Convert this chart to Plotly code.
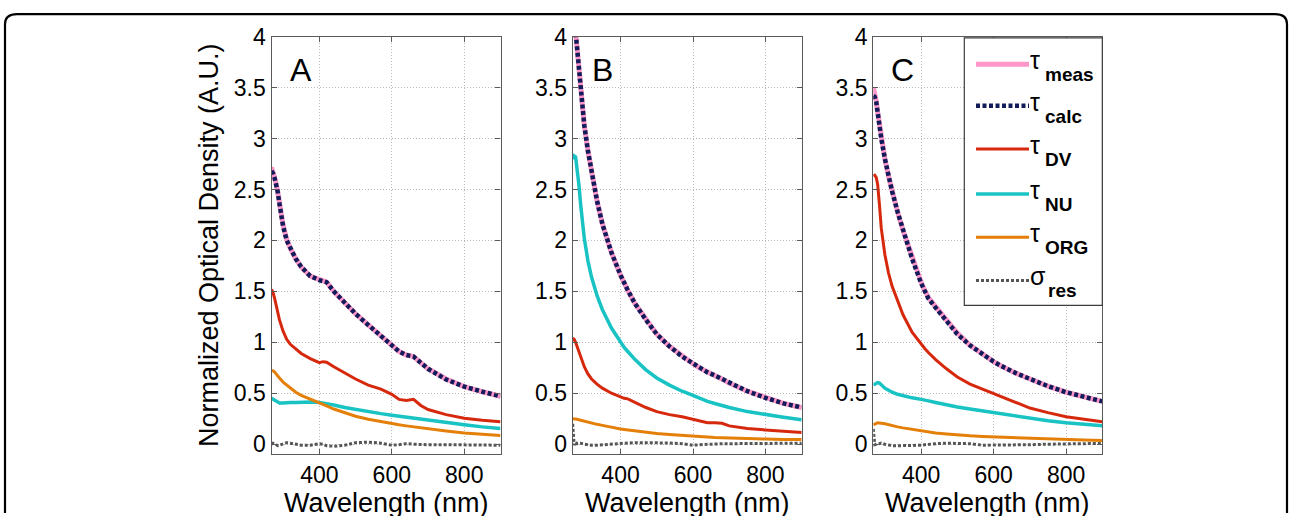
import plotly.graph_objects as go

# ---------------- data ----------------
wavelength = [268, 272, 276, 280, 285, 290, 300, 310, 320, 335, 350, 375, 400, 410, 420,
              440, 470, 500, 535, 570, 600, 620, 640, 660, 680, 700, 750, 800, 850, 900]

panels = ["A", "B", "C"]

# Panel A
A_meas = [2.72, 2.68, 2.63, 2.57, 2.48, 2.36, 2.15, 2.01, 1.92, 1.82, 1.74, 1.65, 1.61, 1.60, 1.59,
          1.50, 1.39, 1.28, 1.17, 1.06, 0.97, 0.91, 0.875, 0.86, 0.80, 0.74, 0.64, 0.565, 0.515, 0.47]
A_calc = [2.68, 2.66, 2.62, 2.57, 2.48, 2.36, 2.14, 2.00, 1.92, 1.82, 1.74, 1.65, 1.61, 1.60, 1.59,
          1.50, 1.39, 1.28, 1.17, 1.06, 0.97, 0.91, 0.875, 0.86, 0.80, 0.74, 0.635, 0.565, 0.515, 0.47]
A_dv = [1.52, 1.49, 1.44, 1.38, 1.30, 1.22, 1.11, 1.03, 0.98, 0.93, 0.89, 0.84, 0.80, 0.81, 0.805,
        0.76, 0.70, 0.64, 0.58, 0.54, 0.49, 0.44, 0.43, 0.44, 0.38, 0.34, 0.29, 0.255, 0.235, 0.22]
A_nu = [0.45, 0.44, 0.43, 0.42, 0.41, 0.405, 0.405, 0.41, 0.41, 0.41, 0.415, 0.415, 0.41, 0.405, 0.40,
        0.385, 0.36, 0.34, 0.32, 0.30, 0.285, 0.275, 0.265, 0.255, 0.245, 0.235, 0.21, 0.19, 0.17, 0.155]
A_org = [0.72, 0.72, 0.71, 0.69, 0.67, 0.65, 0.61, 0.58, 0.55, 0.51, 0.48, 0.44, 0.405, 0.39, 0.375,
         0.345, 0.31, 0.275, 0.245, 0.22, 0.20, 0.19, 0.18, 0.17, 0.16, 0.15, 0.13, 0.11, 0.095, 0.085]
A_res = [0.0, 0.01, 0.005, -0.005, -0.015, -0.01, 0.005, 0.015, 0.01, 0.0, -0.01, -0.01, 0.005, 0.0, -0.015,
         -0.02, -0.01, 0.015, 0.02, 0.01, -0.01, -0.005, 0.005, 0.0, -0.005, -0.005, -0.005, -0.005, -0.008, -0.01]

# Panel B
B_meas = [4.35, 4.20, 4.02, 3.85, 3.64, 3.45, 3.13, 2.88, 2.66, 2.39, 2.16, 1.88, 1.66, 1.58, 1.51,
          1.38, 1.22, 1.08, 0.96, 0.86, 0.79, 0.745, 0.705, 0.675, 0.64, 0.60, 0.52, 0.455, 0.40, 0.36]
B_calc = [4.35, 4.20, 4.02, 3.85, 3.64, 3.45, 3.13, 2.88, 2.66, 2.39, 2.16, 1.88, 1.66, 1.58, 1.51,
          1.38, 1.22, 1.08, 0.96, 0.86, 0.79, 0.745, 0.705, 0.675, 0.64, 0.60, 0.52, 0.455, 0.40, 0.36]
B_dv = [1.04, 1.03, 1.00, 0.96, 0.92, 0.86, 0.76, 0.69, 0.64, 0.59, 0.55, 0.50, 0.46, 0.45, 0.445,
        0.41, 0.36, 0.32, 0.29, 0.27, 0.245, 0.225, 0.21, 0.21, 0.205, 0.18, 0.155, 0.14, 0.125, 0.115]
B_nu = [2.80, 2.83, 2.82, 2.72, 2.55, 2.35, 2.02, 1.80, 1.64, 1.46, 1.32, 1.14, 1.00, 0.95, 0.91,
        0.83, 0.73, 0.65, 0.58, 0.52, 0.48, 0.45, 0.42, 0.40, 0.38, 0.36, 0.32, 0.29, 0.265, 0.24]
B_org = [0.25, 0.25, 0.25, 0.245, 0.24, 0.235, 0.225, 0.215, 0.205, 0.195, 0.185, 0.165, 0.15, 0.145, 0.14,
         0.13, 0.115, 0.105, 0.095, 0.085, 0.078, 0.074, 0.07, 0.066, 0.063, 0.06, 0.055, 0.05, 0.047, 0.045]
B_res = [0.20, -0.01, 0.02, 0.005, 0.01, 0.01, 0.0, -0.005, -0.01, -0.01, -0.005, 0.0, 0.01, 0.01, 0.012,
         0.015, 0.015, 0.015, 0.012, 0.005, -0.01, -0.005, 0.0, 0.005, 0.005, 0.005, 0.005, 0.008, 0.008, 0.01]

# Panel C
C_meas = [3.50, 3.45, 3.37, 3.26, 3.13, 3.01, 2.80, 2.63, 2.48, 2.28, 2.10, 1.83, 1.59, 1.51, 1.44,
          1.35, 1.22, 1.09, 0.97, 0.88, 0.81, 0.77, 0.73, 0.70, 0.67, 0.64, 0.57, 0.51, 0.46, 0.42]
C_calc = [3.42, 3.41, 3.36, 3.25, 3.12, 3.00, 2.80, 2.63, 2.48, 2.28, 2.10, 1.82, 1.58, 1.50, 1.43,
          1.34, 1.21, 1.08, 0.97, 0.88, 0.81, 0.77, 0.73, 0.70, 0.67, 0.64, 0.57, 0.51, 0.46, 0.42]
C_dv = [2.63, 2.64, 2.62, 2.55, 2.35, 2.12, 1.86, 1.68, 1.55, 1.40, 1.27, 1.10, 0.98, 0.94, 0.90,
        0.83, 0.74, 0.66, 0.59, 0.54, 0.50, 0.47, 0.44, 0.41, 0.38, 0.355, 0.31, 0.27, 0.245, 0.22]
C_nu = [0.58, 0.59, 0.60, 0.605, 0.60, 0.58, 0.55, 0.53, 0.51, 0.49, 0.475, 0.455, 0.44, 0.43, 0.425,
        0.41, 0.385, 0.365, 0.345, 0.325, 0.31, 0.30, 0.29, 0.275, 0.265, 0.255, 0.23, 0.21, 0.195, 0.18]
C_org = [0.19, 0.20, 0.205, 0.21, 0.21, 0.205, 0.20, 0.19, 0.18, 0.17, 0.16, 0.145, 0.13, 0.125, 0.12,
         0.11, 0.10, 0.09, 0.082, 0.076, 0.072, 0.068, 0.065, 0.062, 0.059, 0.056, 0.05, 0.045, 0.04, 0.037]
C_res = [0.15, -0.005, 0.0, 0.01, 0.005, 0.01, 0.0, -0.01, -0.015, -0.015, -0.015, -0.01, -0.01, -0.005, 0.0,
         0.005, 0.01, 0.01, 0.005, -0.01, -0.01, -0.01, -0.008, -0.005, -0.005, -0.005, 0.0, 0.002, 0.005, 0.008]

series_symbol = ["τ", "τ", "τ", "τ", "τ", "σ"]
series_sub = ["meas", "calc", "DV", "NU", "ORG", "res"]
series_names = [f"{a}<sub>{b}</sub>" for a, b in zip(series_symbol, series_sub)]
panel_data = {
    "A": [A_meas, A_calc, A_dv, A_nu, A_org, A_res],
    "B": [B_meas, B_calc, B_dv, B_nu, B_org, B_res],
    "C": [C_meas, C_calc, C_dv, C_nu, C_org, C_res],
}
y_ticks = [0, 0.5, 1, 1.5, 2, 2.5, 3, 3.5, 4]
y_tick_text = ["0", "0.5", "1", "1.5", "2", "2.5", "3", "3.5", "4"]
x_ticks = [400, 600, 800]

# ---------------- styles ----------------
styles = [
    dict(color="rgb(255,150,200)", width=5, dash="solid"),
    dict(color="rgb(18,28,90)", width=4.5, dash="4px,2.5px"),
    dict(color="rgb(214,40,12)", width=3, dash="solid"),
    dict(color="rgb(25,195,195)", width=3.5, dash="solid"),
    dict(color="rgb(228,128,10)", width=3, dash="solid"),
    dict(color="rgb(85,85,85)", width=3, dash="3px,2px"),
]

W, H = 1292, 516
# the photographed page maps figure pixel p to screen row 12 + 0.971 * p; compensate
Y_OFF, Y_SCALE = 12.0, 0.971


def fx(px):
    return px / W


def fy(py):
    p = (py - Y_OFF) / Y_SCALE
    p = max(p, 1.2)
    return 1 - p / H


x_domains = [(271.5, 500.5), (572.7, 801.7), (873.3, 1102.3)]
y_dom = [fy(454.3), fy(35.7)]

fig = go.Figure()
FONT = "Arial, Liberation Sans, sans-serif"
axis_common = dict(showline=True, mirror="ticks", linecolor="rgb(90,90,90)", linewidth=1.2,
                   ticks="inside", ticklen=5, tickcolor="rgb(90,90,90)",
                   showgrid=True, gridcolor="rgb(185,185,185)", griddash="1px,2px", gridwidth=1,
                   zeroline=False, tickfont=dict(family=FONT, size=23, color="black"))

annotations = []
for i, p in enumerate(panels):
    xa = "x" if i == 0 else f"x{i+1}"
    ya = "y" if i == 0 else f"y{i+1}"
    for s, (name, vals) in enumerate(zip(series_names, panel_data[p])):
        fig.add_trace(go.Scatter(x=wavelength, y=vals, mode="lines", name=name,
                                 line=dict(color=styles[s]["color"], width=styles[s]["width"],
                                           dash=styles[s]["dash"]),
                                 xaxis=xa, yaxis=ya, showlegend=False, cliponaxis=True))
    d0, d1 = x_domains[i]
    fig.layout[f"xaxis{'' if i == 0 else i+1}"] = dict(
        domain=[fx(d0), fx(d1)], range=[268, 900], tickvals=x_ticks, anchor=ya, **axis_common)
    fig.layout[f"yaxis{'' if i == 0 else i+1}"] = dict(
        domain=y_dom, range=[-0.1, 4], tickvals=y_ticks, ticktext=y_tick_text, anchor=xa, **axis_common)
    annotations.append(dict(text=p, xref=f"{xa} domain", yref=f"{ya} domain", x=0.129, y=0.921,
                            showarrow=False, xanchor="center", yanchor="middle",
                            font=dict(family=FONT, size=32, color="black")))
    annotations.append(dict(text="Wavelength (nm)", xref="paper", yref="paper",
                            x=fx((d0 + d1) / 2), y=fy(503), showarrow=False,
                            xanchor="center", yanchor="middle",
                            font=dict(family=FONT, size=27, color="black")))

annotations.append(dict(text="Normalized Optical Density (A.U.)", xref="paper", yref="paper",
                        x=fx(208.5), y=fy(245), showarrow=False, textangle=-90,
                        xanchor="center", yanchor="middle",
                        font=dict(family=FONT, size=27, color="black")))

shapes = []
shapes.append(dict(type="rect", xref="paper", yref="paper", x0=fx(964.3), x1=fx(1102.3),
                   y0=fy(305), y1=fy(37), fillcolor="white",
                   line=dict(color="rgb(60,60,60)", width=1.2), layer="above"))
leg_y = [63.3, 105, 148.3, 193.3, 236.7, 280]
for s in range(len(series_sub)):
    ly = leg_y[s]
    shapes.append(dict(type="line", xref="paper", yref="paper", x0=fx(976), x1=fx(1029),
                       y0=fy(ly), y1=fy(ly), layer="above",
                       line=dict(color=styles[s]["color"], width=styles[s]["width"], dash=styles[s]["dash"])))
    annotations.append(dict(text=series_symbol[s], xref="paper", yref="paper", x=fx(1028), y=fy(ly - 4),
                            showarrow=False, xanchor="left", yanchor="middle",
                            font=dict(family=FONT, size=25, color="black")))
    sub_x = 1046 if series_symbol[s] == "σ" else 1043
    annotations.append(dict(text=f"<b>{series_sub[s]}</b>", xref="paper", yref="paper", x=fx(sub_x),
                            y=fy(ly + 10.5), showarrow=False, xanchor="left", yanchor="middle",
                            font=dict(family=FONT, size=19, color="black")))

# rounded outer frame
x0, x1, top, r = 5, 1287, 11, 12
frame = (f"M {fx(x0)},0 L {fx(x0)},{fy(top + r)} Q {fx(x0)},{fy(top)} {fx(x0 + r)},{fy(top)} "
         f"L {fx(x1 - r)},{fy(top)} Q {fx(x1)},{fy(top)} {fx(x1)},{fy(top + r)} L {fx(x1)},0")
shapes.append(dict(type="path", xref="paper", yref="paper", path=frame,
                   line=dict(color="black", width=2.2), layer="above"))

fig.update_layout(width=W, height=H, autosize=False, margin=dict(l=0, r=0, t=0, b=0),
                  paper_bgcolor="white", plot_bgcolor="white", showlegend=False,
                  annotations=annotations, shapes=shapes)

fig.write_html("out.html", config={"displayModeBar": False},
               post_script="document.body.style.margin='0';document.body.style.overflow='hidden';")
